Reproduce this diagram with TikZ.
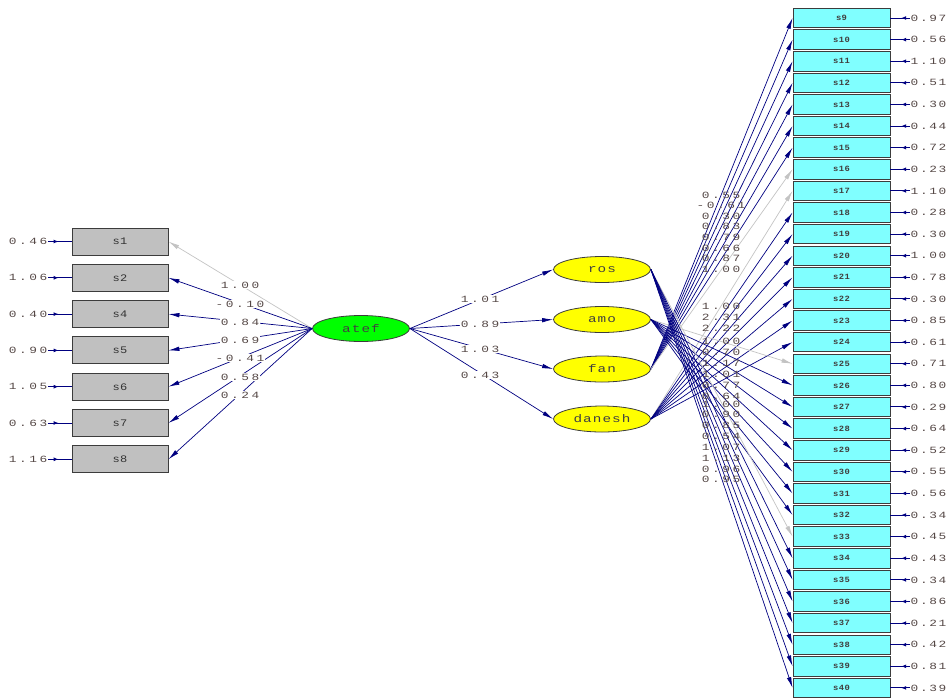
\documentclass[tikz,border=0pt]{standalone}
\usepackage{fontspec}
\usetikzlibrary{arrows.meta,shapes.geometric,decorations.markings}
\newfontfamily\lblfont[FakeStretch=1.35,LetterSpace=27]{Liberation Mono}
\newfontfamily\erlblfont[FakeStretch=1.35,LetterSpace=17]{Liberation Mono}
\newfontfamily\latfont[FakeStretch=1.3,LetterSpace=10]{Liberation Mono}
\newfontfamily\boxfont[FakeStretch=1.2,LetterSpace=5]{Liberation Mono}
\newfontfamily\rboxfont[FakeStretch=1.1,LetterSpace=5]{Liberation Mono Bold}
\definecolor{navy}{RGB}{0,0,128}
\definecolor{lblcol}{RGB}{85,72,70}
\definecolor{fixcol}{RGB}{195,195,195}
\definecolor{boxgray}{RGB}{192,192,192}
\definecolor{boxcyan}{RGB}{128,255,255}
\definecolor{edgecol}{RGB}{60,60,60}
\definecolor{latgreen}{RGB}{0,255,0}
\definecolor{latyellow}{RGB}{255,255,0}
\tikzset{
 lbl/.style={font=\lblfont\fontsize{9.5}{10}\selectfont, text=lblcol, inner sep=0.5pt},
 erlbl/.style={font=\erlblfont\fontsize{9.5}{10}\selectfont, text=lblcol, inner sep=0.5pt},
 lboxL/.style={draw=edgecol, line width=0.9pt, fill=boxgray, minimum width=96pt, minimum height=27pt, inner sep=0pt, font=\boxfont\fontsize{10}{10}\selectfont, text=black!80},
 rbox/.style={draw=edgecol, line width=0.9pt, fill=boxcyan, minimum width=97pt, minimum height=19.5pt, inner sep=0pt, font=\rboxfont\fontsize{8}{8}\selectfont, text=black!75},
 latent/.style={ellipse, draw=edgecol, line width=0.8pt, minimum width=97pt, minimum height=26pt, inner sep=0pt, font=\latfont\fontsize{11}{11}\selectfont, text=black!75},
 load/.style={draw=navy, line width=0.7pt, -{Latex[length=11pt,width=4.5pt]}},
 fixload/.style={draw=fixcol, line width=0.7pt, -{Latex[length=11pt,width=4.5pt]}},
 errline/.style={draw=navy, line width=1pt, postaction={decorate}, decoration={markings, mark=at position 0.45 with {\arrow{Latex[length=5pt,width=4pt]}}}},
}
\begin{document}
\begin{tikzpicture}[x=1pt,y=-1pt]
\useasboundingbox (0,0) rectangle (949,697);

% left observed boxes
\foreach \n/\v [count=\i from 0] in {1/0.46,2/1.06,4/0.40,5/0.90,6/1.05,7/0.63,8/1.16}{
  \node[lboxL] (s\n) at (120,{241.5+36.3*\i}) {s\n};
  \node[lbl, anchor=east] (e\n) at (48,{241.5+36.3*\i}) {\v};
  \draw[errline] (e\n.east) -- (s\n.west);
}

% latent variables
\node[latent, fill=latgreen] (atef) at (361,328.5) {atef};
\node[latent, fill=latyellow] (ros) at (602,269.5) {ros};
\node[latent, fill=latyellow] (amo) at (602,319.5) {amo};
\node[latent, fill=latyellow] (fan) at (602,369) {fan};
\node[latent, fill=latyellow] (danesh) at (602,419) {danesh};

% right observed boxes
\foreach \n/\v [count=\i from 0] in {9/0.97,10/0.56,11/1.10,12/0.51,13/0.30,14/0.44,15/0.72,16/0.23,17/1.10,18/0.28,19/0.30,20/1.00,21/0.78,22/0.30,23/0.85,24/0.61,25/0.71,26/0.80,27/0.29,28/0.64,29/0.52,30/0.55,31/0.56,32/0.34,33/0.45,34/0.43,35/0.34,36/0.86,37/0.21,38/0.42,39/0.81,40/0.39}{
  \node[rbox] (s\n) at (841.5,{18+21.61*\i}) {s\n};
  \node[erlbl, anchor=west] (e\n) at (910,{18+21.61*\i}) {\v};
  \draw[errline] (e\n.west) -- (s\n.east);
}

% atef -> left indicators
\draw[fixload] (atef.west) -- (s1.east);
\foreach \n in {2,4,5,6,7,8}{ \draw[load] (atef.west) -- (s\n.east); }

% atef -> latent
\foreach \n in {ros,amo,fan,danesh}{ \draw[load] (atef.east) -- (\n.west); }

% latent -> right indicators
\foreach \n in {9,...,15}{ \draw[load] (fan.east) -- (s\n.west); }
\draw[fixload] (fan.east) -- (s16.west);
\draw[fixload] (danesh.east) -- (s17.west);
\foreach \n in {18,...,24}{ \draw[load] (danesh.east) -- (s\n.west); }
\draw[fixload] (amo.east) -- (s25.west);
\foreach \n in {26,...,32}{ \draw[load] (amo.east) -- (s\n.west); }
\draw[fixload] (ros.east) -- (s33.west);
\foreach \n in {34,...,40}{ \draw[load] (ros.east) -- (s\n.west); }

% left path labels
\foreach \v/\y [count=\i] in {1.00/285,-0.10/304,0.84/322,0.69/340,-0.41/358,0.58/377,0.24/395}{
  \node[lbl, fill=white] (la\i) at (240,\y) {\v};
}
% middle path labels
\foreach \v/\y [count=\i] in {1.01/299,0.89/324,1.03/349,0.43/375}{
  \node[lbl, fill=white] (lm\i) at (480,\y) {\v};
}
% right path labels
\foreach \v/\y [count=\i] in {0.55/195,-0.61/205.5,0.30/216,0.83/226.5,0.79/237,0.66/248,0.87/258.5,1.00/269.5,
  1.00/306.5,2.31/317,2.22/328,1.00/341,0.70/352.5,1.17/363.5,1.01/374,0.77/385,0.64/396,1.00/404.5,0.90/414.5,0.85/425.5,0.54/436.5,1.07/447.5,1.13/458.5,0.96/469,0.95/479.5}{
  \node[lbl] (lr\i) at (721,\y) {\v};
}
\end{tikzpicture}
\end{document}
